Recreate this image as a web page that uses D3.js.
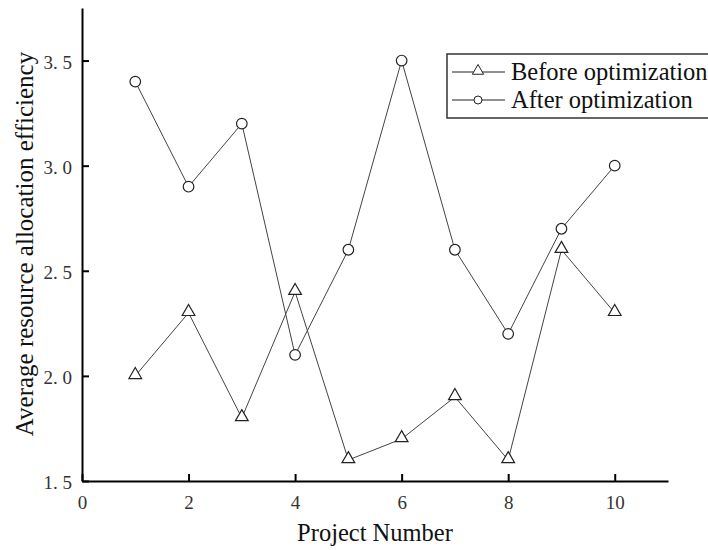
<!DOCTYPE html>
<html lang="en">
<head>
<meta charset="UTF-8">
<script src="https://cdn.jsdelivr.net/npm/d3@7"></script>
<style>
    body { margin: 0; background: white; }
    text { font-family: "Liberation Serif", "DejaVu Serif", serif; }
</style>
</head>
<body>
<script>
    // data
    const projects = [1, 2, 3, 4, 5, 6, 7, 8, 9, 10];
    const beforeOpt = [2.0, 2.3, 1.8, 2.4, 1.6, 1.7, 1.9, 1.6, 2.6, 2.3];
    const afterOpt = [3.4, 2.9, 3.2, 2.1, 2.6, 3.5, 2.6, 2.2, 2.7, 3.0];
    const xTicks = [0, 2, 4, 6, 8, 10];
    const yTicks = [1.5, 2.0, 2.5, 3.0, 3.5];
    const seriesNames = ["Before optimization", "After optimization"];

    const width = 708, height = 550;
    const margin = { left: 82, right: 40, top: 8, bottom: 69 };

    const svg = d3.select("body").append("svg")
        .attr("width", width)
        .attr("height", height);

    const x = d3.scaleLinear().domain([0, 11]).range([margin.left, width - margin.right]);
    const y = d3.scaleLinear().domain([1.5, 3.75]).range([height - margin.bottom, margin.top]);

    // axes (ticks pointing inside)
    const xAxis = svg.append("g")
        .attr("transform", `translate(0,${y(1.5)})`)
        .call(d3.axisBottom(x).tickValues(xTicks).tickSizeInner(-7).tickSizeOuter(0).tickPadding(15));
    const yAxis = svg.append("g")
        .attr("transform", `translate(${x(0)},0)`)
        .call(d3.axisLeft(y).tickValues(yTicks).tickSizeInner(-7).tickSizeOuter(0).tickPadding(10)
            .tickFormat(d => d3.format(".1f")(d).replace(".", ". ")));

    [xAxis, yAxis].forEach(g => {
        g.select(".domain").attr("stroke", "#000").attr("stroke-width", 2);
        g.selectAll(".tick line").attr("stroke", "#000").attr("stroke-width", 2);
        g.selectAll(".tick text")
            .attr("fill", "#333")
            .style("font-size", "19px")
            .style("font-family", "'Liberation Serif', serif");
    });
    yAxis.selectAll(".tick text").attr("dy", "0.4em");

    // axis titles
    svg.append("text")
        .attr("x", 375)
        .attr("y", 541)
        .attr("text-anchor", "middle")
        .style("font-size", "24.5px")
        .attr("fill", "#111")
        .text("Project Number");

    svg.append("text")
        .attr("transform", `translate(33,244) rotate(-90)`)
        .attr("text-anchor", "middle")
        .style("font-size", "25px")
        .attr("fill", "#111")
        .text("Average resource allocation efficiency");

    const line = d3.line().x((d, i) => x(projects[i])).y(d => y(d));
    const triangle = d3.symbol().type(d3.symbolTriangle).size(70);

    // before optimization
    svg.append("path")
        .datum(beforeOpt)
        .attr("d", line)
        .attr("fill", "none")
        .attr("stroke", "#444")
        .attr("stroke-width", 1);
    svg.selectAll(".tri")
        .data(beforeOpt)
        .enter().append("path")
        .attr("class", "tri")
        .attr("d", triangle)
        .attr("transform", (d, i) => `translate(${x(projects[i])},${y(d) - 1})`)
        .attr("fill", "white")
        .attr("stroke", "#222")
        .attr("stroke-width", 1.2);

    // after optimization
    svg.append("path")
        .datum(afterOpt)
        .attr("d", line)
        .attr("fill", "none")
        .attr("stroke", "#444")
        .attr("stroke-width", 1);
    svg.selectAll(".circ")
        .data(afterOpt)
        .enter().append("circle")
        .attr("class", "circ")
        .attr("cx", (d, i) => x(projects[i]))
        .attr("cy", d => y(d))
        .attr("r", 5.3)
        .attr("fill", "white")
        .attr("stroke", "#222")
        .attr("stroke-width", 1.2);

    // legend
    const legend = svg.append("g").attr("transform", "translate(447,54)");
    legend.append("rect")
        .attr("width", 280)
        .attr("height", 64)
        .attr("fill", "white")
        .attr("stroke", "#333")
        .attr("stroke-width", 1.5);
    seriesNames.forEach((name, i) => {
        const cy = 18 + i * 28;
        legend.append("line")
            .attr("x1", 5).attr("x2", 58)
            .attr("y1", cy).attr("y2", cy)
            .attr("stroke", "#222");
        if (i === 0) {
            legend.append("path")
                .attr("d", d3.symbol().type(d3.symbolTriangle).size(55))
                .attr("transform", `translate(31,${cy - 1})`)
                .attr("fill", "white").attr("stroke", "#222");
        } else {
            legend.append("circle")
                .attr("cx", 31).attr("cy", cy).attr("r", 4)
                .attr("fill", "white").attr("stroke", "#222");
        }
        legend.append("text")
            .attr("x", 64)
            .attr("y", cy + 8)
            .style("font-size", "24.5px")
            .attr("fill", "#111")
            .text(name);
    });
</script>
</body>
</html>
